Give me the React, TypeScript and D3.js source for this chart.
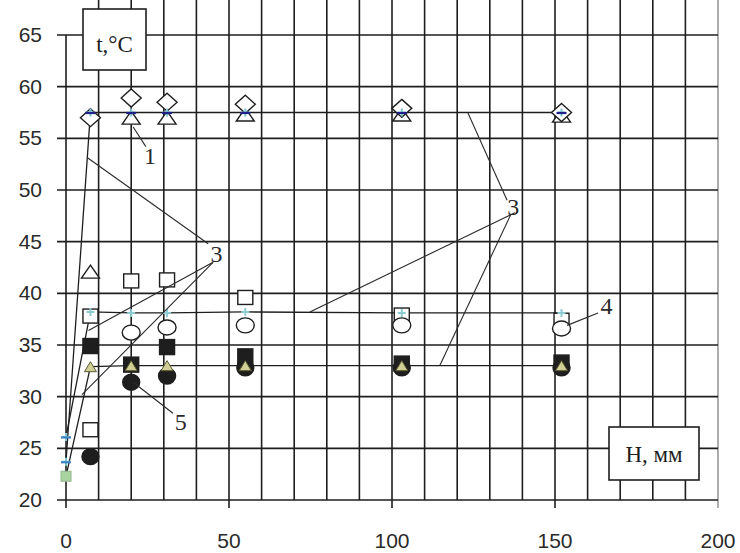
import React, { useEffect, useRef } from "react";
import * as d3 from "d3";

// measured heights H (mm) for the experiments
const H_POINTS = [7.5, 20, 31, 55, 103, 152];
const H_WITH_ZERO = [0, 7.5, 20, 31, 55, 103, 152];

// open markers
const DIAMOND_T = [57.0, 58.9, 58.5, 58.3, 57.9, 57.5];
const TRIANGLE_T = [42.1, 57.0, 57.0, 57.3, 57.3, 57.2];
const SQUARE_OPEN_T = [37.8, 41.2, 41.3, 39.6, 37.9, 37.4];
const SQUARE_OPEN_EXTRA_H = [7.5];
const SQUARE_OPEN_EXTRA_T = [26.8];
const CIRCLE_OPEN_H = [20, 31, 55, 103, 152];
const CIRCLE_OPEN_T = [36.2, 36.7, 36.9, 36.9, 36.6];

// filled markers
const SQUARE_FILLED_T = [34.9, 33.1, 34.8, 33.9, 33.2, 33.3];
const CIRCLE_FILLED_T = [24.2, 31.4, 32.0, 32.8, 32.8, 32.8];

// line series (start at H = 0)
const LINE_TOP_T = [23.7, 57.5, 57.5, 57.5, 57.5, 57.5, 57.5];
const LINE_MID_T = [26.1, 38.2, 38.1, 38.1, 38.2, 38.1, 38.1];
const LINE_LOW_T = [22.3, 32.9, 33.0, 33.0, 33.0, 33.0, 33.0];

const X_TICKS = [0, 50, 100, 150, 200];
const Y_TICKS = [20, 25, 30, 35, 40, 45, 50, 55, 60, 65];

// curve callouts: label, label position, leader lines (data coords)
const CALLOUTS: { label: string; at: [number, number]; lines: [number, number][][] }[] = [
  { label: "1", at: [25.8, 52.5], lines: [[[20.6, 56.1], [24.5, 54.2]]] },
  {
    label: "3",
    at: [46.2, 43.0],
    lines: [
      [[6.7, 53.1], [43.6, 44.8]],
      [[45.1, 43.0], [6.9, 36.4]],
      [[45.1, 43.0], [4.9, 30.2]],
    ],
  },
  {
    label: "3",
    at: [137.2, 47.6],
    lines: [
      [[123.3, 57.45], [135.3, 49.0]],
      [[137.7, 47.8], [74.8, 38.2]],
      [[136.4, 47.6], [114.7, 33.05]],
    ],
  },
  { label: "4", at: [165.8, 38.0], lines: [[[153.7, 36.9], [163.2, 38.1]]] },
  { label: "5", at: [35.2, 26.8], lines: [[[20.6, 31.4], [32.8, 28.4]]] },
];

const App: React.FC = () => {
  const svgRef = useRef<SVGSVGElement>(null);

  useEffect(() => {
    if (!svgRef.current) return;
    const svg = d3.select(svgRef.current);
    svg.selectAll("*").remove();

    const x = d3.scaleLinear().domain([0, 200]).range([66, 718]);
    const y = d3.scaleLinear().domain([20, 65]).range([500, 35]);
    const ink = "#1e1e1e";

    svg.append("rect").attr("width", 740).attr("height", 553).attr("fill", "#fff");

    // grid
    const grid = svg.append("g").attr("stroke", ink).attr("stroke-width", 1.6);
    d3.range(10, 200, 10).forEach((v) => {
      grid.append("line").attr("x1", x(v)).attr("x2", x(v)).attr("y1", 0).attr("y2", y(20));
    });
    grid
      .append("line")
      .attr("x1", x(200))
      .attr("x2", x(200))
      .attr("y1", 0)
      .attr("y2", y(20) + 8)
      .attr("stroke", "#777")
      .attr("stroke-width", 1.2);
    Y_TICKS.forEach((v) => {
      grid.append("line").attr("x1", x(0) - 9).attr("x2", x(200)).attr("y1", y(v)).attr("y2", y(v));
    });
    grid.append("line").attr("x1", x(0)).attr("x2", x(0)).attr("y1", y(65)).attr("y2", y(20) + 8);
    X_TICKS.slice(1, 4).forEach((v) => {
      grid.append("line").attr("x1", x(v)).attr("x2", x(v)).attr("y1", y(20)).attr("y2", y(20) + 8);
    });

    // tick labels
    const tickFont = "'Liberation Sans', Arial, sans-serif";
    svg
      .append("g")
      .selectAll("text")
      .data(Y_TICKS)
      .enter()
      .append("text")
      .attr("x", 42)
      .attr("y", (d) => y(d) + 7)
      .attr("text-anchor", "end")
      .attr("font-family", tickFont)
      .attr("font-size", 21)
      .attr("fill", "#2a2a2a")
      .text((d) => d);
    svg
      .append("g")
      .selectAll("text")
      .data(X_TICKS)
      .enter()
      .append("text")
      .attr("x", (d) => x(d))
      .attr("y", 548)
      .attr("text-anchor", "middle")
      .attr("font-family", tickFont)
      .attr("font-size", 21)
      .attr("fill", "#2a2a2a")
      .text((d) => d);

    // series lines
    const line = d3
      .line<[number, number]>()
      .x((d) => x(d[0]))
      .y((d) => y(d[1]));
    [LINE_TOP_T, LINE_MID_T, LINE_LOW_T].forEach((vals) => {
      svg
        .append("path")
        .attr("d", line(H_WITH_ZERO.map((h, i) => [h, vals[i]] as [number, number])))
        .attr("fill", "none")
        .attr("stroke", ink)
        .attr("stroke-width", 1.3);
    });

    const pts = (hs: number[], ts: number[]) => hs.map((h, i) => [x(h), y(ts[i])] as [number, number]);
    const mark = svg.append("g").attr("stroke", ink).attr("stroke-width", 1.4);

    const diamond = (cx: number, cy: number) =>
      `M${cx},${cy - 9}L${cx + 10},${cy}L${cx},${cy + 9}L${cx - 10},${cy}Z`;
    const triangle = (cx: number, cy: number, w: number, h: number) =>
      `M${cx},${cy - h / 2}L${cx + w / 2},${cy + h / 2}L${cx - w / 2},${cy + h / 2}Z`;

    pts(H_POINTS, TRIANGLE_T).forEach(([cx, cy]) =>
      mark.append("path").attr("d", triangle(cx, cy, 18, 13)).attr("fill", "#fff")
    );
    pts(H_POINTS, DIAMOND_T).forEach(([cx, cy]) =>
      mark.append("path").attr("d", diamond(cx, cy)).attr("fill", "#fff")
    );
    pts(H_POINTS, SQUARE_OPEN_T)
      .concat(pts(SQUARE_OPEN_EXTRA_H, SQUARE_OPEN_EXTRA_T))
      .forEach(([cx, cy]) =>
        mark
          .append("rect")
          .attr("x", cx - 7.5)
          .attr("y", cy - 7)
          .attr("width", 15)
          .attr("height", 14)
          .attr("fill", "#fff")
      );
    pts(CIRCLE_OPEN_H, CIRCLE_OPEN_T).forEach(([cx, cy]) =>
      mark.append("ellipse").attr("cx", cx).attr("cy", cy).attr("rx", 9).attr("ry", 7.5).attr("fill", "#fff")
    );
    pts(H_POINTS, CIRCLE_FILLED_T).forEach(([cx, cy]) =>
      mark.append("ellipse").attr("cx", cx).attr("cy", cy).attr("rx", 8.5).attr("ry", 8).attr("fill", ink)
    );
    pts(H_POINTS, SQUARE_FILLED_T).forEach(([cx, cy]) =>
      mark
        .append("rect")
        .attr("x", cx - 7.5)
        .attr("y", cy - 7.5)
        .attr("width", 15)
        .attr("height", 15)
        .attr("fill", ink)
    );
    pts(H_POINTS, LINE_LOW_T.slice(1)).forEach(([cx, cy]) =>
      mark
        .append("path")
        .attr("d", triangle(cx, cy, 12, 10))
        .attr("fill", "#cfcf96")
        .attr("stroke", "#5a5a30")
        .attr("stroke-width", 1)
    );
    // H = 0 start of the low line
    mark
      .append("rect")
      .attr("x", x(0) - 5)
      .attr("y", y(LINE_LOW_T[0]) - 5)
      .attr("width", 10)
      .attr("height", 10)
      .attr("fill", "#a9d3a0")
      .attr("stroke", "#8fb58a")
      .attr("stroke-width", 1);

    // plus markers of the line series
    const plus = (cx: number, cy: number, color: string, dash: string | null) => {
      const g = svg.append("g");
      g.append("path")
        .attr("d", `M${cx - 4},${cy}H${cx + 4}M${cx},${cy - 4}V${cy + 4}`)
        .attr("stroke", color)
        .attr("stroke-width", 2);
      if (dash)
        g.append("path")
          .attr("d", `M${cx - 5},${cy + 0.5}H${cx + 5}`)
          .attr("stroke", dash)
          .attr("stroke-width", 2.2);
    };
    pts(H_WITH_ZERO, LINE_TOP_T).forEach(([cx, cy], i) => plus(cx, cy, "#7cc6cf", i === 0 ? "#3b82c4" : "#20208a"));
    pts(H_WITH_ZERO, LINE_MID_T).forEach(([cx, cy], i) => plus(cx, cy, "#8ccbd2", i === 0 ? "#3b82c4" : null));

    // callouts
    const callouts = svg.append("g");
    CALLOUTS.forEach((c) => {
      c.lines.forEach((seg) =>
        callouts
          .append("path")
          .attr("d", line(seg as [number, number][]))
          .attr("stroke", "#2a2a2a")
          .attr("stroke-width", 1.1)
          .attr("fill", "none")
      );
      callouts
        .append("text")
        .attr("x", x(c.at[0]))
        .attr("y", y(c.at[1]))
        .attr("text-anchor", "middle")
        .attr("font-family", "'Liberation Serif', 'Times New Roman', serif")
        .attr("font-size", 24)
        .attr("fill", "#2a2a2a")
        .text(c.label);
    });

    // axis title boxes
    const boxes = [
      { text: "t,°C", x0: 83, y0: 9, w: 63, h: 61, tx: 114.5, ty: 52 },
      { text: "H, мм", x0: 609, y0: 427, w: 90, h: 53, tx: 654, ty: 462 },
    ];
    boxes.forEach((b) => {
      svg
        .append("rect")
        .attr("x", b.x0)
        .attr("y", b.y0)
        .attr("width", b.w)
        .attr("height", b.h)
        .attr("fill", "#fff")
        .attr("stroke", ink)
        .attr("stroke-width", 1.6);
      svg
        .append("text")
        .attr("x", b.tx)
        .attr("y", b.ty)
        .attr("text-anchor", "middle")
        .attr("font-family", "'Liberation Serif', 'Times New Roman', serif")
        .attr("font-size", 23)
        .attr("fill", "#1e1e1e")
        .text(b.text);
    });
  }, []);

  return (
    <svg
      ref={svgRef}
      width={740}
      height={553}
      style={{ position: "absolute", left: 0, top: 0 }}
    />
  );
};

export default App;
